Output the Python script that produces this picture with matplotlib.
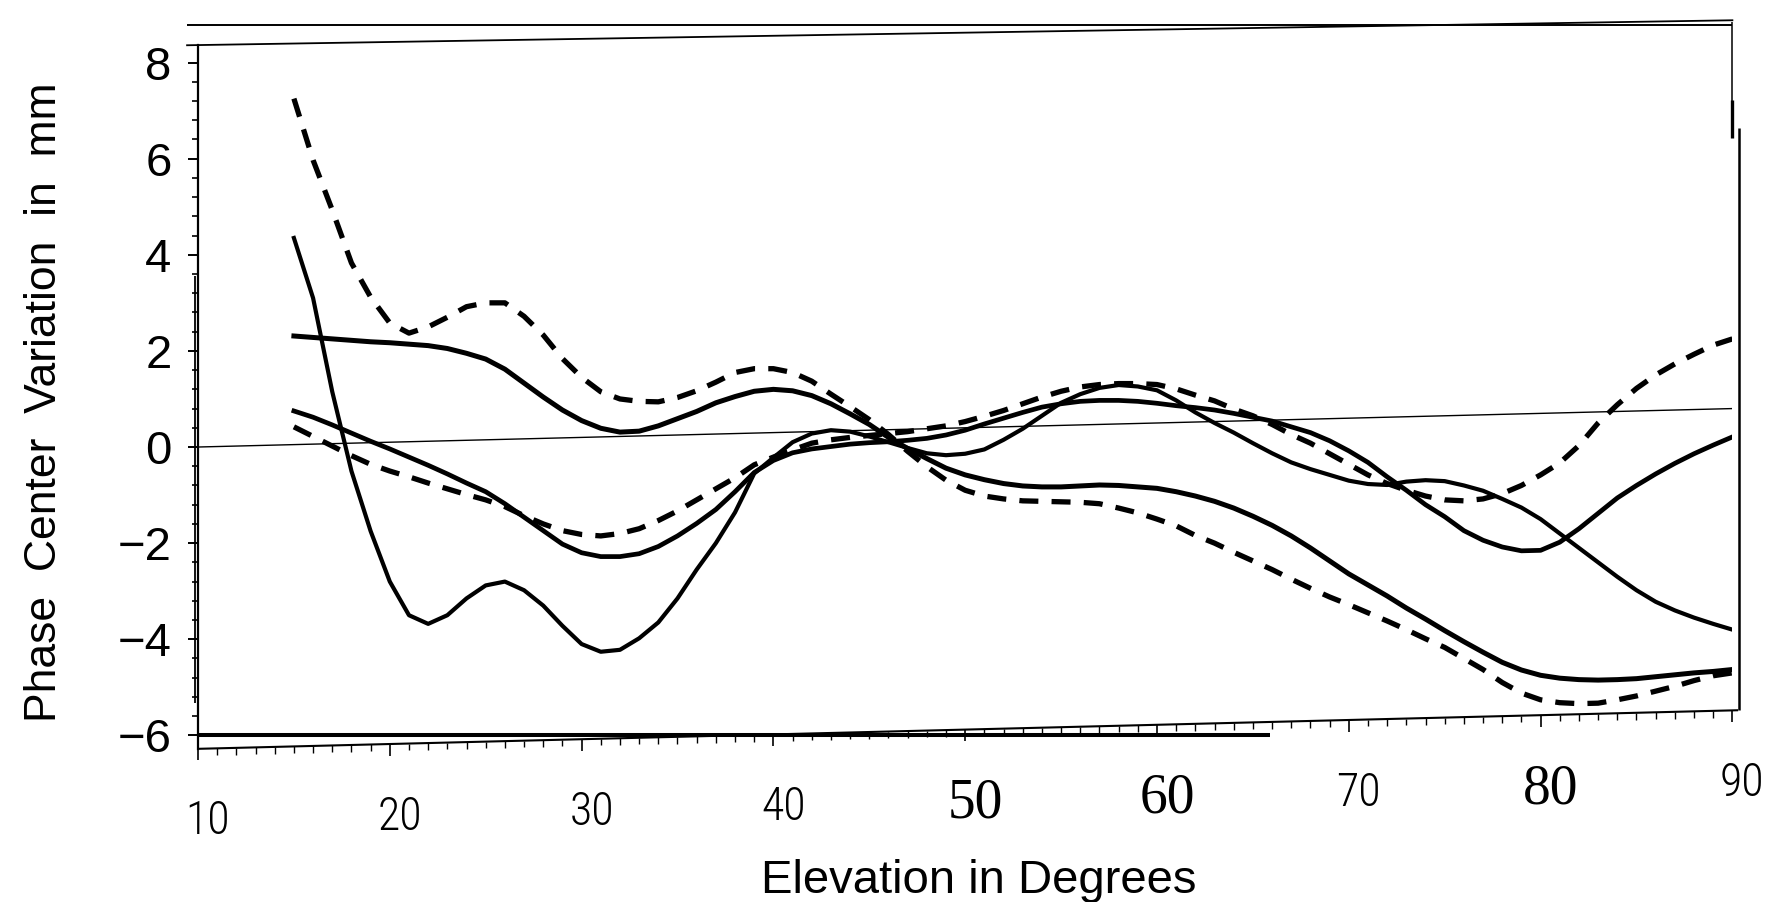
import numpy as np
import matplotlib
matplotlib.use("Agg")
import matplotlib.pyplot as plt
from matplotlib import font_manager
from matplotlib.font_manager import FontProperties
from matplotlib.transforms import Affine2D, ScaledTranslation

# ---------------------------------------------------------------- data
ELEVATION = list(range(15, 91))

PCV_DASHED_HIGH = [
    7.20, 5.91, 4.86, 3.75, 3.03, 2.48, 2.26, 2.38, 2.57, 2.78,
    2.85, 2.84, 2.55, 2.15, 1.65, 1.25, 0.94, 0.78, 0.72, 0.70,
    0.78, 0.91, 1.08, 1.27, 1.34, 1.33, 1.24, 1.05, 0.77, 0.50,
    0.22, -0.10, -0.46, -0.79, -1.08, -1.30, -1.43, -1.50, -1.55, -1.57,
    -1.59, -1.61, -1.65, -1.75, -1.86, -2.00, -2.15, -2.36, -2.53, -2.73,
    -2.92, -3.11, -3.32, -3.52, -3.71, -3.88, -4.06, -4.24, -4.43, -4.63,
    -4.82, -5.06, -5.30, -5.58, -5.81, -5.96, -6.03, -6.06, -6.06, -6.00,
    -5.93, -5.84, -5.75, -5.64, -5.55, -5.50,
]

PCV_DASHED_LOW = [
    0.37, 0.16, -0.05, -0.26, -0.45, -0.60, -0.73, -0.87, -1.00, -1.13,
    -1.25, -1.40, -1.60, -1.78, -1.93, -2.02, -2.06, -2.02, -1.93, -1.77,
    -1.58, -1.36, -1.14, -0.92, -0.66, -0.51, -0.37, -0.24, -0.18, -0.14,
    -0.11, -0.08, -0.05, 0.00, 0.05, 0.13, 0.23, 0.34, 0.47, 0.60,
    0.71, 0.79, 0.83, 0.84, 0.83, 0.80, 0.70, 0.56, 0.43, 0.25,
    0.10, -0.09, -0.31, -0.50, -0.73, -0.96, -1.19, -1.38, -1.53, -1.66,
    -1.75, -1.78, -1.75, -1.65, -1.49, -1.28, -1.04, -0.69, -0.23, 0.14,
    0.47, 0.74, 0.96, 1.15, 1.33, 1.45,
]

PCV_SOLID_FLAT = [
    2.26, 2.22, 2.18, 2.14, 2.10, 2.07, 2.03, 1.99, 1.92, 1.81,
    1.68, 1.46, 1.16, 0.86, 0.58, 0.35, 0.18, 0.09, 0.10, 0.20,
    0.34, 0.48, 0.65, 0.77, 0.87, 0.90, 0.86, 0.75, 0.57, 0.35,
    0.12, -0.16, -0.40, -0.62, -0.83, -0.98, -1.09, -1.18, -1.24, -1.27,
    -1.28, -1.27, -1.26, -1.28, -1.32, -1.36, -1.44, -1.54, -1.66, -1.81,
    -1.99, -2.19, -2.42, -2.68, -2.96, -3.24, -3.48, -3.72, -3.98, -4.22,
    -4.47, -4.71, -4.94, -5.16, -5.33, -5.45, -5.52, -5.56, -5.58, -5.58,
    -5.57, -5.54, -5.51, -5.48, -5.46, -5.43,
]

PCV_SOLID_MID = [
    0.70, 0.56, 0.39, 0.21, 0.03, -0.14, -0.32, -0.50, -0.69, -0.89,
    -1.08, -1.34, -1.63, -1.92, -2.21, -2.40, -2.49, -2.50, -2.45, -2.31,
    -2.10, -1.85, -1.57, -1.21, -0.82, -0.58, -0.43, -0.36, -0.32, -0.28,
    -0.26, -0.25, -0.23, -0.20, -0.14, -0.05, 0.07, 0.18, 0.29, 0.39,
    0.45, 0.49, 0.50, 0.49, 0.46, 0.41, 0.35, 0.30, 0.24, 0.16,
    0.07, -0.02, -0.15, -0.28, -0.46, -0.68, -0.93, -1.24, -1.53, -1.84,
    -2.10, -2.40, -2.61, -2.76, -2.85, -2.85, -2.69, -2.42, -2.11, -1.80,
    -1.55, -1.32, -1.11, -0.92, -0.75, -0.59,
]

PCV_SOLID_DEEP = [
    4.30, 3.04, 1.08, -0.58, -1.84, -2.90, -3.61, -3.80, -3.63, -3.29,
    -3.03, -2.96, -3.15, -3.48, -3.91, -4.30, -4.47, -4.44, -4.21, -3.89,
    -3.40, -2.81, -2.27, -1.64, -0.84, -0.52, -0.21, -0.04, 0.02, -0.02,
    -0.13, -0.26, -0.39, -0.51, -0.56, -0.54, -0.46, -0.27, -0.05, 0.21,
    0.47, 0.64, 0.76, 0.81, 0.77, 0.68, 0.46, 0.20, -0.03, -0.24,
    -0.47, -0.69, -0.89, -1.04, -1.17, -1.30, -1.38, -1.41, -1.35, -1.33,
    -1.36, -1.46, -1.58, -1.76, -1.95, -2.20, -2.51, -2.82, -3.13, -3.44,
    -3.73, -3.98, -4.17, -4.33, -4.47, -4.60,
]

Y_TICKS = [-6, -4, -2, 0, 2, 4, 6, 8]
X_TICKS = [10, 20, 30, 40, 50, 60, 70, 80, 90]
X_TICK_LABELS = ["10", "20", "30", "40", "50", "60", "70", "80", "90"]
SERIF_TICK_LABELS = {"50", "60", "80"}

X_LABEL = "Elevation in Degrees"
Y_LABEL = "Phase  Center  Variation  in  mm"

# ---------------------------------------------------------------- style
TILT = 0.01          # rise (mm per degree) of the sloped plot frame
AXIS_LEVEL = -6.28   # level of the sloped elevation axis
LABEL_LEVEL = -7.72  # centre line of the elevation tick labels


def installed(name):
    return any(f.name == name for f in font_manager.fontManager.ttflist)


SANS = "Liberation Sans" if installed("Liberation Sans") else "DejaVu Sans"
SERIF = "Liberation Serif" if installed("Liberation Serif") else "DejaVu Serif"


def narrow_font():
    """A light condensed sans face for the narrow tick digits, if one exists."""
    for name in ("Liberation Sans Narrow", "Arial Narrow",
                 "DejaVu Sans Condensed", "Roboto Condensed",
                 "Open Sans Condensed"):
        if installed(name):
            return FontProperties(family=name, weight="light"), True
    for f in font_manager.fontManager.ttflist:
        if (str(f.stretch) in ("condensed", "semi-condensed")
                and f.style == "normal" and "Mono" not in f.name
                and "Serif" not in f.name
                and str(f.weight) in ("300", "400", "normal", "light")):
            return FontProperties(fname=f.fname), True
    return FontProperties(family=SANS), False


NARROW_PROP, HAVE_NARROW = narrow_font()

plt.rcParams["font.family"] = [SANS, "DejaVu Sans"]

fig = plt.figure(figsize=(17.79, 9.02), dpi=100, facecolor="white")
ax = fig.add_axes([0.1113, 0.1581, 0.8625, 0.8205])
ax.set_xlim(10, 90)
ax.set_ylim(-6.5, 8.9)

# data coordinates sheared along with the sloped frame
tilted = Affine2D(np.array([[1.0, 0.0, 0.0],
                            [TILT, 1.0, -TILT * 10],
                            [0.0, 0.0, 1.0]])) + ax.transData

dash = (0, (3.6, 2.5))
ax.plot(ELEVATION, PCV_DASHED_HIGH, color="black", lw=3.8, ls=dash,
        dash_capstyle="butt", transform=tilted)
ax.plot(ELEVATION, PCV_DASHED_LOW, color="black", lw=3.8, ls=dash,
        dash_capstyle="butt", transform=tilted)
ax.plot(ELEVATION, PCV_SOLID_FLAT, color="black", lw=3.6,
        solid_joinstyle="round", transform=tilted)
ax.plot(ELEVATION, PCV_SOLID_MID, color="black", lw=3.4,
        solid_joinstyle="round", transform=tilted)
ax.plot(ELEVATION, PCV_SOLID_DEEP, color="black", lw=3.0,
        solid_joinstyle="round", transform=tilted)

# zero reference line
ax.plot(ax.get_xlim(), [0, 0], color="black", lw=1.0, transform=tilted)

# ---------------------------------------------------------------- axes
for side in ("top", "right", "bottom"):
    ax.spines[side].set_visible(False)
ax.spines["left"].set_bounds(-6.28, 8.36)
ax.spines["left"].set_linewidth(1.6)

ax.set_yticks(Y_TICKS)
ax.set_yticks(np.arange(-6, 8.01, 0.4), minor=True)
ax.tick_params(axis="y", which="major", direction="out", length=7,
               width=1.4, pad=12, labelsize=34)
ax.tick_params(axis="y", which="minor", direction="out", length=4, width=1.2)
ax.set_xticks([])
ax.tick_params(axis="x", which="both", length=0, labelbottom=False)

# sloped elevation axis with one tick per degree
ax.plot([10, 90.3], [AXIS_LEVEL, AXIS_LEVEL], color="black", lw=1.5,
        transform=tilted, clip_on=False, solid_capstyle="butt")
minor_deg = [d for d in range(10, 91) if d % 10]
ax.vlines(minor_deg, AXIS_LEVEL - 0.14, AXIS_LEVEL, color="black", lw=1.0,
          transform=tilted, clip_on=False)
ax.vlines(X_TICKS, AXIS_LEVEL - 0.24, AXIS_LEVEL, color="black", lw=1.2,
          transform=tilted, clip_on=False)

for value, text in zip(X_TICKS, X_TICK_LABELS):
    if text in SERIF_TICK_LABELS:
        size, cap = 40, 0.676
        prop = FontProperties(family=SERIF, size=size, weight="normal",
                              style="normal", stretch="normal")
    else:
        size = 33 if HAVE_NARROW else 31
        cap = 0.716
        prop = NARROW_PROP.copy()
        prop.set_size(size)
    shift = ScaledTranslation(0.10, -0.5 * cap * size / 72, fig.dpi_scale_trans)
    ax.text(value, LABEL_LEVEL, text, transform=tilted + shift,
            ha="center", va="baseline", fontproperties=prop, clip_on=False)

# frame pieces around the plotting area
ax.hlines(-6, 10, 65.9, color="black", lw=2.9)
ax.plot([9.43, 90], [8.36, 8.88], color="black", lw=1.3, clip_on=False)
ax.hlines(8.78, 9.43, 90, color="black", lw=1.4, clip_on=False)
ax.vlines(90, 6.43, 8.84, color="black", lw=1.1, clip_on=False)
ax.vlines(90, 6.43, 7.22, color="black", lw=2.4, clip_on=False)
ax.vlines(90.33, -5.47, 6.64, color="black", lw=1.8, clip_on=False)
ax.vlines(9.84, -5.33, 3.56, color="black", lw=1.3, clip_on=False)

# ---------------------------------------------------------------- labels
ax.set_xlabel(X_LABEL, fontsize=34)
ax.xaxis.set_label_coords(0.509, -0.134)
ax.set_ylabel(Y_LABEL, fontsize=32)
ax.yaxis.set_label_coords(-0.0866, 0.483)

fig.savefig("out.png", dpi=100, facecolor="white")
